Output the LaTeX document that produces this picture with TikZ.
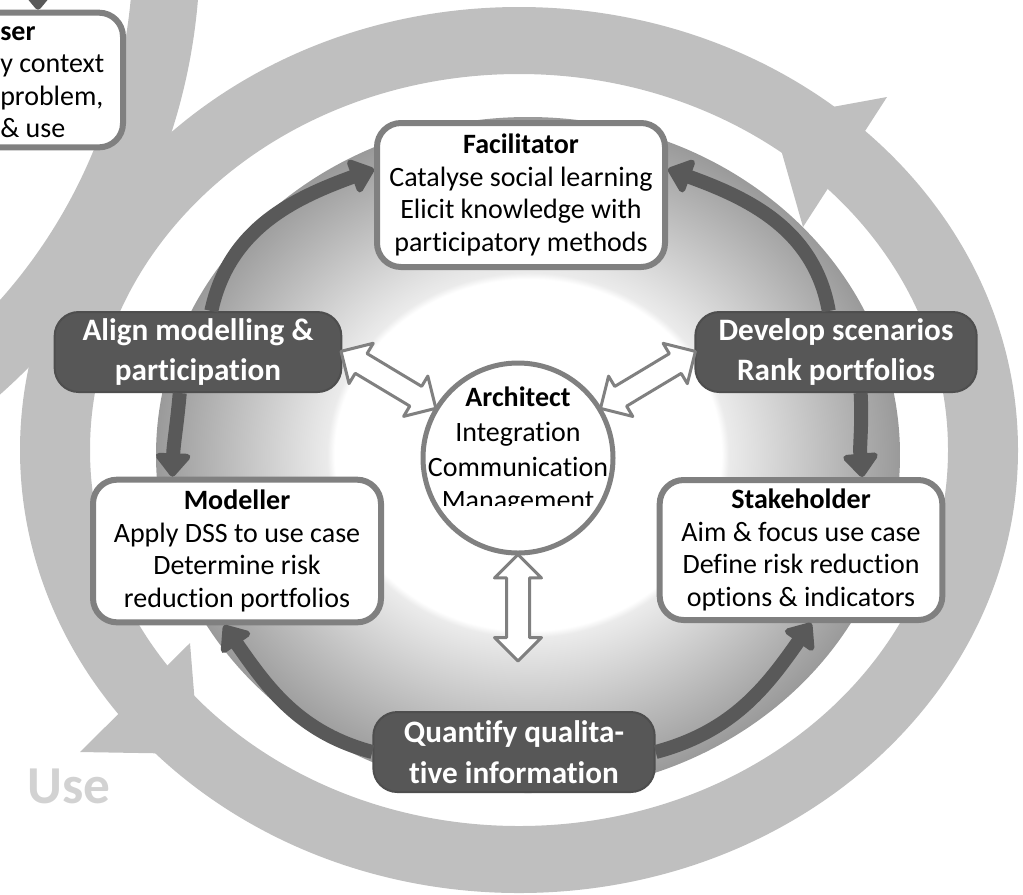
\documentclass[tikz,border=0pt]{standalone}
\usepackage{fontspec}
\setmainfont{Carlito}[Ligatures=NoCommon]
\usetikzlibrary{arrows.meta}
\usetikzlibrary{shapes.arrows}

\definecolor{ringgray}{HTML}{BFBFBF}
\definecolor{rimgray}{HTML}{808080}
\definecolor{taskgray}{HTML}{575757}
\definecolor{taskrim}{HTML}{4E4E4E}
\definecolor{flowgray}{HTML}{595959}
\definecolor{usegray}{HTML}{D2D2D2}
\definecolor{haloin}{HTML}{EBEBEB}
\definecolor{haloout}{HTML}{9A9A9A}

\pgfdeclareradialshading{halo}{\pgfpoint{0bp}{0bp}}{color(0bp)=(white); color(13bp)=(white); color(13.5bp)=(haloin); color(25bp)=(haloout); color(50bp)=(haloout)}

\newcommand{\rolefont}{\fontsize{21pt}{24.4pt}\selectfont}
\newcommand{\archfont}{\fontsize{21pt}{26.2pt}\selectfont}
\newcommand{\taskfont}{\fontsize{23.4pt}{30.5pt}\selectfont\bfseries}

\begin{document}
\begin{tikzpicture}[x=0.75pt,y=0.75pt,yscale=-1,xscale=1,
  rolebox/.style={draw=rimgray, line width=4.5pt, fill=white, rounded corners=18pt, align=center, inner sep=2pt, font=\rolefont},
  taskbox/.style={draw=taskrim, line width=1.5pt, fill=taskgray, rounded corners=18pt, align=center, text=white, font=\taskfont, minimum height=60pt},
  flow/.style={draw=flowgray, line width=10.5pt, -{Triangle[width=30pt,length=19pt,round]}},
  dblarrow/.style={double arrow, draw=rimgray, fill=white, line width=2.25pt, line join=round, inner sep=7.5pt, double arrow head extend=9pt, minimum width=33pt}]
\useasboundingbox (0,0) rectangle (1023,894);
\clip (0,0) rectangle (1023,894);

%Shape: Ring of the user cycle
\fill [ringgray, even odd rule] (-394,-50) circle [radius=594] (-394,-50) circle [radius=527];
%Shape: Ring of the use cycle
\fill [ringgray, even odd rule] (519,450) ellipse [x radius=499, y radius=443] (519,450) ellipse [x radius=429, y radius=376];
%Shape: Triangle
\fill [ringgray] (772,118) -- (887,97) -- (803,227) -- cycle;
%Shape: Triangle
\fill [ringgray] (199,754) -- (190,643) -- (80,752) -- cycle;

%Shape: Shaded ellipse
\shade [shading=halo] (528,455) ellipse [x radius=372, y radius=338];

% Text Node
\node [rolebox, minimum width=195pt, minimum height=101pt] (user) at (-7,80) {};
\node [anchor=west, align=left, font=\rolefont, inner sep=0pt] (usertext) at (0,82) {\textbf{ser}\\y context\\problem,\\\& use};
\coordinate (userin) at (38,-30);
\draw [flow] (userin) -- (user.north -| userin);

% Text Node
\node [rolebox, minimum width=216pt, minimum height=108pt] (facil) at (521,195) {\textbf{Facilitator}\\Catalyse social learning\\Elicit knowledge with\\participatory methods};
% Text Node
\node [rolebox, minimum width=216pt, minimum height=107pt] (modeller) at (237,551) {\textbf{Modeller}\\Apply DSS to use case\\Determine risk\\reduction portfolios};
% Text Node
\node [rolebox, minimum width=212pt, minimum height=105pt] (stake) at (801,550) {\textbf{Stakeholder}\\Aim \& focus use case\\Define risk reduction\\options \& indicators};

% Text Node
\node [taskbox, minimum width=215pt] (align) at (198,352) {Align modelling \&\\participation};
% Text Node
\node [taskbox, minimum width=211pt] (develop) at (836,352) {Develop scenarios\\Rank portfolios};
% Text Node
\node [taskbox, minimum width=211pt] (quantify) at (514,752) {Quantify qualita-\\tive information};

% Text Node
\node [circle, draw=rimgray, line width=3.75pt, fill=white, minimum size=142.5pt] (arch) at (518,458) {};
\node [align=center, font=\archfont, inner sep=0pt] (archtext) at (518,432) {\textbf{Architect}\\Integration\\Communication};
\begin{scope}
\clip (420,470) rectangle (620,505);
\node [font=\rolefont, inner sep=0pt, anchor=base] (archmgmt) at (518,509) {Management};
\end{scope}

%Curve Lines
\draw [flow] (align.72) to [out=-78, in=160] (facil.170);
\draw [flow] (develop.100) to [out=-100, in=20] (facil.10);
\draw [flow] (align.246) to [out=95, in=-88] (modeller.131);
\draw [flow] (develop.301) to [out=87, in=-95] (stake.50);
\draw [flow] (quantify.west) to [out=-165, in=55] (modeller.260);
\draw [flow] (quantify.east) to [out=-15, in=125] (stake.278);

%Shape: Double Arrows
\path (align.east) -- (arch) node [dblarrow, midway, rotate=-31, minimum height=83pt] (dblleft) {};
\path (arch) -- (develop.west) node [dblarrow, midway, rotate=31, minimum height=83pt] (dblright) {};
\coordinate (archlow) at (518,660);
\path (arch.south) -- (archlow) node [dblarrow, midway, rotate=90, minimum height=80pt] (dbldown) {};

% Text Node
\node [font=\fontsize{40pt}{40pt}\selectfont\bfseries, text=usegray, inner sep=0pt] (uselabel) at (69,786) {Use};

\end{tikzpicture}
\end{document}
